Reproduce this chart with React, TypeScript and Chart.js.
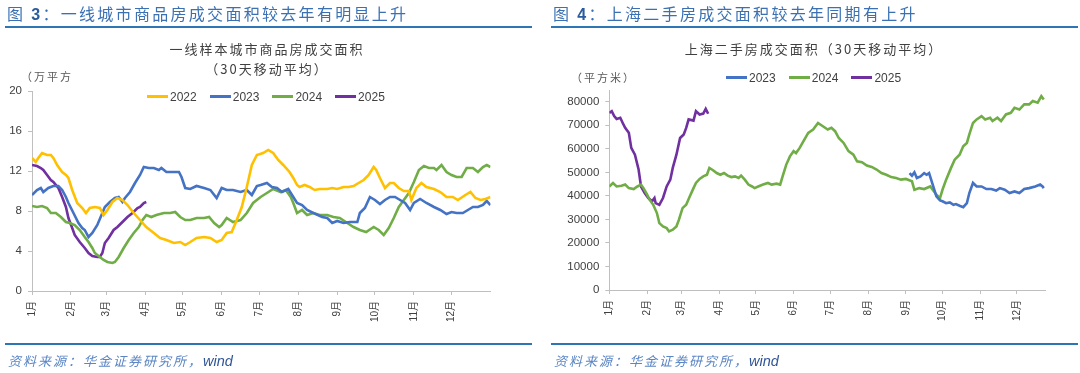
import React, { useEffect, useRef } from 'react';
import { Chart, registerables } from 'chart.js';

Chart.register(...registerables);

// ---------- shared axis data ----------
const MONTH_LABELS = ['1月', '2月', '3月', '4月', '5月', '6月', '7月', '8月', '9月', '10月', '11月', '12月'];
const MONTH_START_DAYS = [0, 31, 59, 90, 120, 151, 181, 212, 243, 273, 304, 334];

// ---------- left chart: 一线样本城市商品房成交面积 (万平方米, 30天移动平均) ----------
const L_Y_TICKS = [0, 4, 8, 12, 16, 20];

const L_DAYS_2022 = [0, 3, 5, 8, 12, 15, 17, 20, 24, 27, 29, 32, 36, 40, 43, 46, 50, 54, 57, 60, 64, 68, 72, 76, 81, 86, 91, 97, 102, 107, 113, 118, 122, 126, 131, 137, 142, 147, 151, 155, 159, 163, 167, 171, 175, 179, 184, 188, 192, 196, 200, 205, 208, 211, 213, 217, 221, 225, 229, 235, 239, 243, 248, 252, 256, 260, 264, 268, 272, 274, 277, 281, 285, 288, 292, 296, 300, 302, 306, 310, 314, 320, 325, 330, 335, 339, 345, 349, 353, 357, 361, 365];
const L_VALS_2022 = [13.3, 12.9, 13.3, 13.8, 13.6, 13.6, 13.3, 12.6, 11.9, 11.6, 11.3, 10.1, 8.8, 8.3, 7.8, 8.3, 8.4, 8.3, 7.6, 8.1, 8.9, 9.3, 9.1, 8.6, 7.8, 7.1, 6.4, 5.8, 5.3, 5.1, 4.8, 4.9, 4.6, 4.9, 5.3, 5.4, 5.3, 4.9, 5.1, 5.8, 5.9, 7.1, 8.4, 10.4, 12.6, 13.6, 13.8, 14.1, 13.8, 13.1, 12.6, 11.9, 11.3, 10.6, 10.4, 10.6, 10.4, 10.1, 10.2, 10.2, 10.3, 10.2, 10.4, 10.4, 10.5, 10.8, 11.1, 11.6, 12.4, 12.1, 11.3, 10.3, 10.8, 10.8, 10.3, 10.0, 10.0, 9.1, 10.3, 10.8, 10.4, 10.2, 9.9, 9.4, 9.4, 9.1, 9.6, 9.9, 9.3, 9.1, 9.2, 9.4];

const L_DAYS_2023 = [0, 4, 7, 9, 13, 17, 21, 24, 27, 29, 33, 37, 40, 42, 45, 48, 52, 56, 58, 62, 66, 69, 72, 74, 78, 82, 86, 89, 93, 97, 101, 103, 107, 113, 117, 119, 122, 126, 131, 137, 142, 147, 151, 155, 160, 166, 171, 175, 179, 182, 187, 191, 195, 199, 204, 208, 211, 215, 219, 224, 231, 235, 239, 243, 248, 253, 259, 261, 265, 269, 273, 277, 281, 285, 289, 293, 297, 301, 304, 309, 314, 320, 325, 330, 334, 338, 343, 347, 351, 355, 359, 362, 365];
const L_VALS_2023 = [9.6, 10.1, 10.3, 9.9, 10.3, 10.5, 10.5, 10.1, 9.4, 8.8, 7.8, 6.8, 6.3, 6.1, 5.4, 5.8, 6.6, 7.8, 8.4, 8.9, 9.3, 9.4, 8.9, 9.3, 9.9, 10.8, 11.6, 12.4, 12.3, 12.3, 12.1, 12.3, 11.9, 11.9, 11.9, 11.4, 10.3, 10.2, 10.5, 10.3, 10.1, 9.3, 10.3, 10.1, 10.1, 9.9, 10.1, 9.6, 10.5, 10.6, 10.8, 10.4, 10.3, 9.9, 10.2, 9.4, 8.8, 8.6, 8.1, 7.8, 7.4, 7.3, 6.8, 7.0, 6.8, 6.9, 6.9, 7.8, 8.3, 9.4, 9.1, 8.7, 9.1, 9.4, 9.4, 9.1, 8.8, 8.1, 8.8, 9.2, 8.8, 8.4, 8.1, 7.7, 7.9, 7.8, 7.8, 8.1, 8.4, 8.4, 8.6, 9.0, 8.6];

const L_DAYS_2024 = [0, 4, 8, 12, 15, 19, 23, 27, 30, 34, 38, 42, 45, 48, 50, 54, 57, 60, 64, 66, 69, 73, 77, 81, 85, 88, 91, 95, 99, 105, 110, 114, 118, 122, 126, 131, 137, 141, 145, 149, 151, 155, 160, 166, 171, 176, 182, 187, 192, 198, 202, 206, 208, 211, 215, 219, 224, 229, 235, 240, 245, 251, 256, 261, 266, 272, 276, 280, 284, 288, 292, 296, 300, 304, 308, 312, 316, 320, 322, 326, 330, 334, 338, 342, 346, 351, 355, 359, 362, 365];
const L_VALS_2024 = [8.5, 8.4, 8.5, 8.3, 7.8, 7.8, 7.4, 6.9, 6.8, 6.6, 6.1, 5.4, 4.9, 4.3, 3.8, 3.4, 3.1, 2.9, 2.8, 2.9, 3.4, 4.3, 5.1, 5.8, 6.4, 7.1, 7.6, 7.4, 7.6, 7.8, 7.8, 7.9, 7.4, 7.1, 7.1, 7.3, 7.3, 7.4, 6.8, 6.4, 6.6, 7.3, 6.9, 7.1, 7.8, 8.8, 9.4, 9.8, 10.2, 9.9, 10.1, 9.4, 8.8, 7.8, 8.1, 7.6, 7.8, 7.6, 7.6, 7.4, 7.3, 6.8, 6.4, 6.1, 5.9, 6.4, 6.1, 5.6, 6.3, 7.3, 8.4, 9.1, 9.8, 10.9, 12.1, 12.5, 12.3, 12.3, 12.1, 12.6, 11.9, 11.6, 11.4, 11.4, 12.3, 12.3, 11.9, 12.4, 12.6, 12.4];

const L_DAYS_2025 = [0, 4, 7, 9, 12, 15, 17, 21, 24, 27, 29, 32, 34, 38, 42, 45, 48, 52, 54, 56, 58, 61, 65, 68, 72, 76, 80, 84, 86, 89, 91];
const L_VALS_2025 = [12.6, 12.5, 12.3, 12.1, 11.6, 11.1, 10.9, 10.3, 9.4, 8.4, 7.3, 6.3, 5.6, 4.9, 4.3, 3.8, 3.5, 3.4, 3.4, 3.8, 4.8, 5.3, 6.1, 6.4, 6.9, 7.4, 7.8, 8.3, 8.4, 8.8, 8.9];

// ---------- right chart: 上海二手房成交面积 (平方米, 30天移动平均) ----------
const R_Y_TICKS = [0, 10000, 20000, 30000, 40000, 50000, 60000, 70000, 80000];

const R_DAYS_2023 = [246, 248, 250, 252, 255, 258, 260, 262, 265, 268, 271, 273, 276, 279, 282, 284, 287, 290, 293, 295, 298, 301, 305, 309, 313, 317, 320, 324, 328, 332, 336, 340, 344, 349, 353, 355, 356];
const R_VALS_2023 = [49700, 48600, 50000, 47600, 48300, 49700, 49000, 49700, 44800, 39800, 38100, 37700, 36900, 37200, 36200, 36500, 35800, 35200, 36900, 41200, 45500, 44000, 44000, 42900, 42900, 42300, 43300, 42600, 41200, 41900, 41200, 42900, 43300, 44000, 44800, 44000, 43300];

const R_DAYS_2024 = [0, 3, 6, 10, 13, 16, 20, 23, 26, 28, 31, 33, 36, 39, 41, 44, 47, 49, 52, 55, 57, 60, 63, 66, 69, 71, 74, 77, 80, 82, 85, 88, 91, 94, 97, 100, 103, 106, 108, 111, 114, 117, 119, 122, 126, 130, 133, 137, 140, 142, 145, 148, 151, 153, 156, 159, 163, 167, 171, 175, 179, 182, 185, 188, 192, 196, 200, 203, 207, 211, 215, 219, 223, 227, 231, 235, 239, 243, 248, 250, 254, 258, 263, 265, 268, 271, 273, 276, 280, 283, 287, 290, 293, 295, 298, 301, 305, 308, 312, 314, 318, 321, 325, 329, 332, 336, 340, 344, 347, 351, 354, 356];
const R_VALS_2024 = [44000, 45500, 44000, 44300, 44800, 43300, 42900, 44000, 44800, 43300, 40500, 38400, 36200, 32700, 28400, 27000, 26300, 24900, 25600, 27000, 29800, 34800, 36200, 39800, 43300, 45500, 47200, 48300, 49000, 51900, 50900, 49700, 49000, 49700, 48600, 48000, 48300, 47600, 48600, 46900, 44800, 44000, 43300, 44000, 44800, 45500, 44800, 45200, 44800, 48300, 53300, 56800, 59000, 58200, 60400, 63200, 66800, 68200, 71000, 69600, 68200, 68900, 67500, 64600, 62500, 59000, 57500, 54700, 54300, 52900, 52300, 51200, 49700, 49000, 48000, 47600, 46900, 47200, 46200, 42600, 43300, 42900, 44000, 42600, 40500, 39100, 42600, 46900, 51900, 55400, 57500, 61100, 62500, 66100, 71000, 72500, 73900, 72500, 73200, 71800, 73200, 71800, 74600, 75300, 77400, 76700, 78900, 78900, 80300, 79600, 82400, 81000];

const R_DAYS_2025 = [0, 2, 4, 6, 9, 11, 13, 16, 18, 21, 24, 26, 29, 32, 35, 37, 38, 41, 44, 47, 50, 52, 55, 58, 61, 63, 65, 69, 71, 74, 77, 79, 81];
const R_VALS_2025 = [75300, 76000, 73900, 72700, 73200, 71000, 68900, 66800, 60400, 57500, 51200, 44000, 41200, 39100, 37700, 39100, 36900, 36200, 39100, 44000, 46900, 51900, 57500, 64600, 66100, 68900, 72500, 72000, 76000, 74600, 75000, 77000, 74900];

const COLORS: Record<string, string> = {
  '2022': '#FFC000',
  '2023': '#4472C4',
  '2024': '#70AD47',
  '2025': '#7030A0',
};

type Series = { label: string; days: number[]; values: number[] };

const LEFT_SERIES: Series[] = [
  { label: '2022', days: L_DAYS_2022, values: L_VALS_2022 },
  { label: '2023', days: L_DAYS_2023, values: L_VALS_2023 },
  { label: '2024', days: L_DAYS_2024, values: L_VALS_2024 },
  { label: '2025', days: L_DAYS_2025, values: L_VALS_2025 },
];
const RIGHT_SERIES: Series[] = [
  { label: '2023', days: R_DAYS_2023, values: R_VALS_2023 },
  { label: '2024', days: R_DAYS_2024, values: R_VALS_2024 },
  { label: '2025', days: R_DAYS_2025, values: R_VALS_2025 },
];

const TICK_FONT = '"Liberation Sans", Arial, "Noto Sans CJK SC", sans-serif';
const CJK_FONT = '"Noto Sans CJK SC", "Liberation Sans", sans-serif';
const AXIS_COLOR = '#bfbfbf';
const TICK_COLOR = '#404040';

type PanelCfg = {
  series: Series[];
  xMax: number;
  yMax: number;
  yTicks: number[];
  yWidth: number;
  yFontSize: number;
  padding: { left: number; right: number; top: number; bottom: number };
};

function ChartCanvas({ cfg }: { cfg: PanelCfg }) {
  const ref = useRef<HTMLCanvasElement | null>(null);
  useEffect(() => {
    if (!ref.current) return;
    const chart = new Chart(ref.current, {
      type: 'line',
      data: {
        datasets: cfg.series.map((s) => ({
          label: s.label,
          data: s.days.map((d, i) => ({ x: d, y: s.values[i] })),
          borderColor: COLORS[s.label],
          backgroundColor: COLORS[s.label],
          borderWidth: 2.6,
          pointRadius: 0,
          tension: 0,
          fill: false,
        })),
      },
      options: {
        animation: false,
        responsive: false,
        maintainAspectRatio: false,
        layout: { padding: cfg.padding },
        plugins: { legend: { display: false }, tooltip: { enabled: false }, title: { display: false } },
        scales: {
          x: {
            type: 'linear',
            min: 0,
            max: cfg.xMax,
            afterBuildTicks: (scale: any) => {
              scale.ticks = MONTH_START_DAYS.map((v) => ({ value: v }));
            },
            afterFit: (scale: any) => {
              scale.height = 40;
            },
            ticks: {
              autoSkip: false,
              maxRotation: 90,
              minRotation: 90,
              padding: 6,
              color: TICK_COLOR,
              font: { family: TICK_FONT, size: 10 },
              callback: (v: any) => {
                const i = MONTH_START_DAYS.indexOf(Number(v));
                return i >= 0 ? MONTH_LABELS[i] : '';
              },
            },
            grid: { drawOnChartArea: false, drawTicks: true, tickLength: 4, color: AXIS_COLOR },
            border: { display: true, color: AXIS_COLOR },
          },
          y: {
            type: 'linear',
            min: 0,
            max: cfg.yMax,
            afterBuildTicks: (scale: any) => {
              scale.ticks = cfg.yTicks.map((v) => ({ value: v }));
            },
            afterFit: (scale: any) => {
              scale.width = cfg.yWidth;
            },
            ticks: {
              autoSkip: false,
              padding: 6,
              color: TICK_COLOR,
              font: { family: TICK_FONT, size: cfg.yFontSize },
              callback: (v: any) => String(v),
            },
            grid: { drawOnChartArea: false, drawTicks: true, tickLength: 4, color: AXIS_COLOR },
            border: { display: true, color: AXIS_COLOR },
          },
        },
      },
    } as any);
    return () => chart.destroy();
  }, [cfg]);
  return <canvas ref={ref} width={540} height={373} style={{ position: 'absolute', left: 0, top: 0, width: 540, height: 373 }} />;
}

const LEFT_CFG: PanelCfg = {
  series: LEFT_SERIES,
  xMax: 365,
  yMax: 20,
  yTicks: L_Y_TICKS,
  yWidth: 32,
  yFontSize: 11.5,
  padding: { left: 0, right: 49.5, top: 91, bottom: 42 },
};
// right panel is placed at x = 546
const RIGHT_CFG: PanelCfg = {
  series: RIGHT_SERIES,
  xMax: 357,
  yMax: 85000,
  yTicks: R_Y_TICKS,
  yWidth: 63.3,
  yFontSize: 11.5,
  padding: { left: 0, right: 41, top: 90, bottom: 43 },
};

function Legend({ series, left, centerY }: { series: Series[]; left: number; centerY: number }) {
  return (
    <div style={{ position: 'absolute', left, top: centerY - 8, height: 16, display: 'flex', alignItems: 'center', whiteSpace: 'nowrap' }}>
      {series.map((s) => (
        <div key={s.label} style={{ display: 'flex', alignItems: 'center', marginRight: 13 }}>
          <span style={{ display: 'inline-block', width: 21, height: 2.6, background: COLORS[s.label], marginRight: 2 }} />
          <span style={{ font: `12px ${TICK_FONT}`, color: TICK_COLOR, lineHeight: '16px' }}>{s.label}</span>
        </div>
      ))}
    </div>
  );
}

function Panel({
  x,
  fig,
  heading,
  titleLines,
  titleCenter,
  unit,
  unitLeft,
  unitY,
  legendLeft,
  legendY,
  cfg,
}: {
  x: number;
  fig: string;
  heading: string;
  titleLines: string[];
  titleCenter: number;
  unit: string;
  unitLeft: number;
  unitY: number;
  legendLeft: number;
  legendY: number;
  cfg: PanelCfg;
}) {
  return (
    <div style={{ position: 'absolute', left: x, top: 0, width: 540, height: 373 }}>
      <ChartCanvas cfg={cfg} />
      <div
        style={{
          position: 'absolute',
          left: 7,
          top: 3,
          whiteSpace: 'nowrap',
          fontFamily: CJK_FONT,
          fontSize: 16,
          lineHeight: '20px',
          letterSpacing: 2.3,
          color: '#3b71b3',
        }}
      >
        图 <span style={{ fontFamily: TICK_FONT, fontWeight: 'bold', color: '#2a5b9c' }}>{fig}</span>：{heading}
      </div>
      <div style={{ position: 'absolute', left: 5, top: 26, width: 527, height: 2, background: '#2e75b6' }} />
      {titleLines.map((t, i) => (
        <div
          key={i}
          style={{
            position: 'absolute',
            left: titleCenter - 200,
            width: 400,
            top: 39 + i * 20,
            textAlign: 'center',
            whiteSpace: 'nowrap',
            fontFamily: CJK_FONT,
            fontSize: 13,
            lineHeight: '20px',
            letterSpacing: 2,
            color: '#404040',
          }}
        >
          {t}
        </div>
      ))}
      <div
        style={{
          position: 'absolute',
          left: unitLeft,
          top: unitY - 7,
          whiteSpace: 'nowrap',
          fontFamily: CJK_FONT,
          fontSize: 11,
          lineHeight: '14px',
          letterSpacing: 2,
          color: '#595959',
        }}
      >
        {unit}
      </div>
      <Legend series={cfg.series} left={legendLeft} centerY={legendY} />
      <div style={{ position: 'absolute', left: 5, top: 343, width: 527, height: 2, background: '#2e75b6' }} />
      <div
        style={{
          position: 'absolute',
          left: 8,
          top: 352,
          whiteSpace: 'nowrap',
          fontStyle: 'italic',
          lineHeight: '18px',
        }}
      >
        <span style={{ fontFamily: CJK_FONT, fontSize: 13, letterSpacing: 2, color: '#5b86c4' }}>资料来源：华金证券研究所，</span>
        <span style={{ fontFamily: TICK_FONT, fontSize: 14.5, color: '#2f5597' }}>wind</span>
      </div>
    </div>
  );
}

export default function App() {
  return (
    <div style={{ position: 'absolute', left: 0, top: 0, width: 1080, height: 373, background: '#ffffff', overflow: 'hidden' }}>
      <Panel
        x={0}
        fig="3"
        heading="一线城市商品房成交面积较去年有明显上升"
        titleLines={['一线样本城市商品房成交面积', '（30天移动平均）']}
        titleCenter={267}
        unit="（万平方"
        unitLeft={21}
        unitY={76}
        legendLeft={147}
        legendY={96.5}
        cfg={LEFT_CFG}
      />
      <Panel
        x={546}
        fig="4"
        heading="上海二手房成交面积较去年同期有上升"
        titleLines={['上海二手房成交面积（30天移动平均）']}
        titleCenter={814 - 546}
        unit="（平方米）"
        unitLeft={571 - 546}
        unitY={77.3}
        legendLeft={726 - 546}
        legendY={77.7}
        cfg={RIGHT_CFG}
      />
    </div>
  );
}
